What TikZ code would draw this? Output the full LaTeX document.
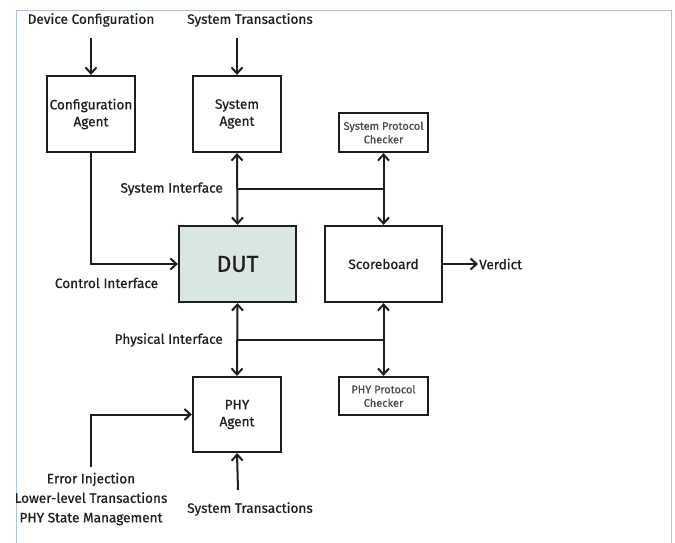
\documentclass[tikz,border=0pt]{standalone}
\usepackage{fontspec}
\setmainfont{Fira Sans}[UprightFeatures={FakeBold=0.6}]
\usetikzlibrary{arrows.meta}
\definecolor{ink}{HTML}{1E1E1E}
\definecolor{frame}{HTML}{A9C4E8}
\definecolor{dutfill}{HTML}{D9E6E4}
\begin{document}
\begin{tikzpicture}[x=1pt,y=-1pt,
  box/.style={draw=ink,line width=2.2pt,align=center,text=ink,inner sep=1pt,font=\fontsize{13.6}{17}\selectfont},
  chk/.style={draw=ink,line width=2.2pt,align=center,text=ink!80,inner sep=1pt,font=\fontsize{11}{13.5}\selectfont},
  lbl/.style={text=ink,align=center,inner sep=1pt,font=\fontsize{13.6}{17}\selectfont},
  arr/.style={draw=ink,line width=2pt,-{Straight Barb[length=6pt,width=11pt]}},
  darr/.style={draw=ink,line width=2pt,{Straight Barb[length=6pt,width=11pt]}-{Straight Barb[length=6pt,width=11pt]}},
  ln/.style={draw=ink,line width=2pt}]
\useasboundingbox (0,0) rectangle (675,543);
\fill[white] (0,0) rectangle (675,543);
\draw[frame,line width=0.8pt] (16,543) -- (16,10) -- (671,10) -- (671,543);
% boxes
\node[box,minimum width=88pt,minimum height=76pt] (ca) at (91,114) {Configuration\\Agent};
\node[box,minimum width=88pt,minimum height=76pt] (sa) at (237,114) {System\\Agent};
\node[chk,minimum width=89pt,minimum height=39pt] (spc) at (383.5,132.5) {System Protocol\\Checker};
\node[box,fill=dutfill,minimum width=117pt,minimum height=76pt,font=\fontsize{23}{26}\selectfont] (dut) at (237.5,264) {DUT};
\node[box,minimum width=117pt,minimum height=76pt] (sb) at (383.5,264) {Scoreboard};
\node[box,minimum width=88pt,minimum height=75pt] (phy) at (237,414.5) {PHY\\Agent};
\node[chk,minimum width=89pt,minimum height=38pt] (ppc) at (383.5,396) {PHY Protocol\\Checker};
% labels
\node[lbl] (dc) at (91,20) {Device Configuration};
\node[lbl] (st) at (250,20) {System Transactions};
\node[lbl,anchor=east] (si) at (224,189) {System Interface};
\node[lbl] (ci) at (106.5,283) {Control Interface};
\node[lbl,anchor=east] (pi) at (224,340) {Physical Interface};
\node[lbl,anchor=west] (vd) at (478,264) {Verdict};
\node[lbl] (st2) at (250,509) {System Transactions};
\node[lbl,font=\fontsize{13.6}{19.5}\selectfont] (err) at (91,499) {Error Injection\\Lower-level Transactions\\PHY State Management};
% coordinates
\coordinate (dcT) at (91,38);
\coordinate (stT) at (237,38);
\coordinate (j1) at (237,189);
\coordinate (j2) at (383.5,189);
\coordinate (j3) at (237,340);
\coordinate (j4) at (383.5,340);
\coordinate (errT) at (91,467);
\coordinate (stB) at (238,490);
% connectors
\draw[arr] (dcT) -- (ca.north);
\draw[arr] (stT) -- (sa.north);
\draw[darr] (sa.south) -- (dut.north);
\draw[ln] (j1) -- (j2);
\draw[arr] (j2) -- (spc.south);
\draw[arr] (j2) -- (sb.north);
\draw[arr] (ca.south) |- (dut.west);
\draw[arr] (sb.east) -- (vd.west);
\draw[darr] (dut.south) -- (phy.north);
\draw[ln] (j3) -- (j4);
\draw[arr] (j4) -- (sb.south);
\draw[arr] (j4) -- (ppc.north);
\draw[arr] (errT) |- (phy.west);
\draw[arr] (stB) -- (phy.south);
\end{tikzpicture}
\end{document}
